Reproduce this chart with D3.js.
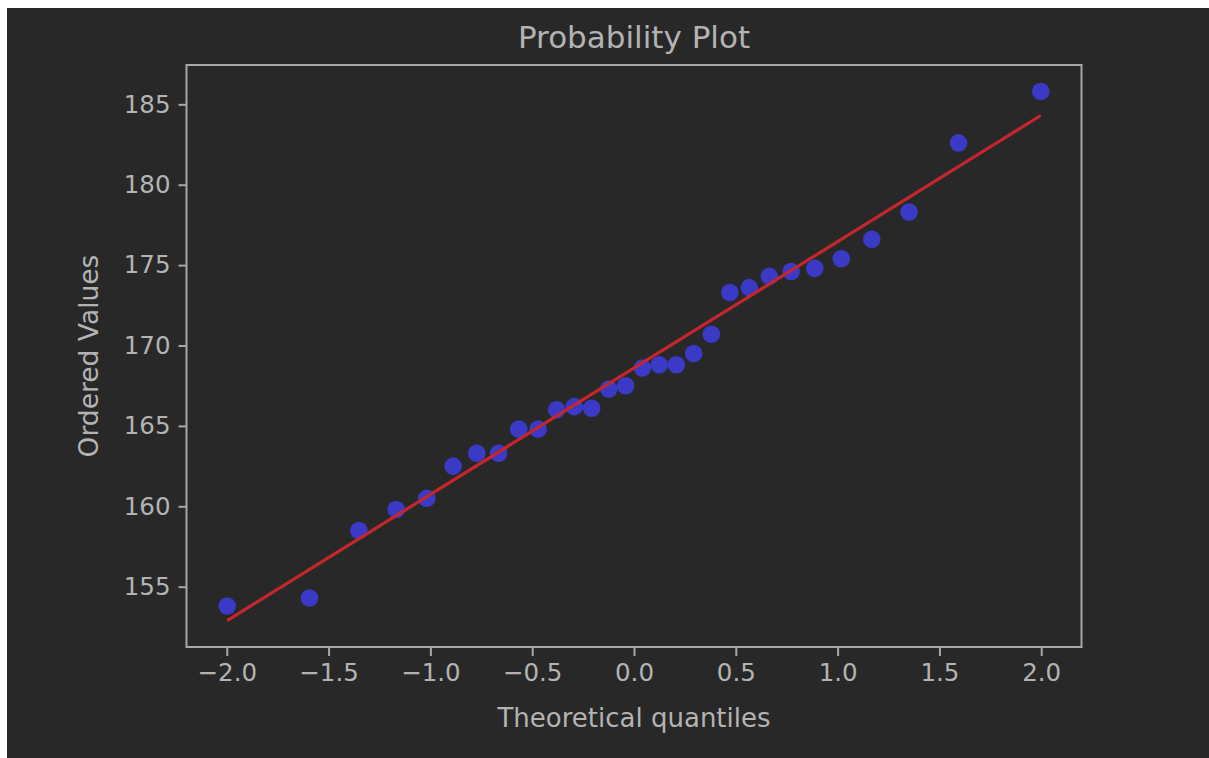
<!DOCTYPE html>
<html>
<head>
<meta charset="utf-8">
<script src="https://cdn.jsdelivr.net/npm/d3@7"></script>
<style>
    body { margin: 0; background: #ffffff; }
    svg { display: block; }
    text { font-family: "DejaVu Sans", sans-serif; fill: #b3b3b3; }
</style>
</head>
<body>
<div id="chart"></div>
<script>
// 理论分位数（横轴）
const quantiles = [-1.998, -1.594, -1.351, -1.168, -1.018, -0.888, -0.772, -0.665, -0.566, -0.471,
    -0.380, -0.293, -0.208, -0.124, -0.041, 0.041, 0.124, 0.208, 0.293, 0.380,
    0.471, 0.566, 0.665, 0.772, 0.888, 1.018, 1.168, 1.351, 1.594, 1.998];
// 排序后的数值（纵轴）
const orderedValues = [153.8, 154.3, 158.5, 159.8, 160.5, 162.5, 163.3, 163.3, 164.8, 164.8,
    166.0, 166.2, 166.1, 167.3, 167.5, 168.6, 168.8, 168.8, 169.5, 170.7,
    173.3, 173.6, 174.3, 174.6, 174.8, 175.4, 176.6, 178.3, 182.6, 185.8];
// 拟合直线（斜率、截距）
const fitSlope = 7.86;
const fitIntercept = 168.6;
// 刻度
const xTicks = [-2.0, -1.5, -1.0, -0.5, 0.0, 0.5, 1.0, 1.5, 2.0];
const yTicks = [155, 160, 165, 170, 175, 180, 185];

const W = 1209, H = 758;
// 绘图区边界
const plot = {left: 186.5, right: 1081.5, top: 65, bottom: 647};

const svg = d3.select("#chart").append("svg")
    .attr("width", W)
    .attr("height", H);

// 深色背景（左上留白边）
svg.append("rect")
    .attr("x", 7).attr("y", 8)
    .attr("width", W - 7).attr("height", H - 8)
    .attr("fill", "#282828");

// 比例尺，两端各留 5% 边距
const xMin = d3.min(quantiles), xMax = d3.max(quantiles);
const xPad = (xMax - xMin) * 0.05;
const x = d3.scaleLinear()
    .domain([xMin - xPad, xMax + xPad])
    .range([plot.left, plot.right]);

const fitLine = [xMin, xMax].map(q => [q, fitSlope * q + fitIntercept]);
const yAll = orderedValues.concat(fitLine.map(d => d[1]));
const yMin = d3.min(yAll), yMax = d3.max(yAll);
const yPad = (yMax - yMin) * 0.05;
const y = d3.scaleLinear()
    .domain([yMin - yPad, yMax + yPad])
    .range([plot.bottom, plot.top]);

// 数据点
svg.selectAll(".dot")
    .data(quantiles)
    .enter().append("circle")
    .attr("class", "dot")
    .attr("cx", d => x(d))
    .attr("cy", (d, i) => y(orderedValues[i]))
    .attr("r", 8.8)
    .attr("fill", "#3a3ac6");

// 拟合线
svg.append("path")
    .datum(fitLine)
    .attr("fill", "none")
    .attr("stroke", "#c4262e")
    .attr("stroke-width", 3.2)
    .attr("d", d3.line().x(d => x(d[0])).y(d => y(d[1])));

// X轴
const fmtX = d => d3.format(".1f")(d).replace("-", "\u2212");
const gx = svg.append("g")
    .attr("transform", `translate(0, ${plot.bottom})`)
    .call(d3.axisBottom(x).tickValues(xTicks).tickFormat(fmtX).tickSize(9).tickPadding(8));
gx.select(".domain").remove();
gx.selectAll("line").attr("stroke", "#a8a8a8").attr("stroke-width", 2);
gx.selectAll("text").attr("fill", "#b3b3b3").style("font-size", "24.5px")
    .style("font-family", "DejaVu Sans, sans-serif");

// Y轴
const gy = svg.append("g")
    .attr("transform", `translate(${plot.left}, 0)`)
    .call(d3.axisLeft(y).tickValues(yTicks).tickSize(8).tickPadding(8));
gy.select(".domain").remove();
gy.selectAll("line").attr("stroke", "#a8a8a8").attr("stroke-width", 2);
gy.selectAll("text").attr("fill", "#b3b3b3").style("font-size", "24.5px")
    .style("font-family", "DejaVu Sans, sans-serif");

// 边框
svg.append("rect")
    .attr("x", plot.left).attr("y", plot.top)
    .attr("width", plot.right - plot.left).attr("height", plot.bottom - plot.top)
    .attr("fill", "none")
    .attr("stroke", "#a8a8a8")
    .attr("stroke-width", 2);

// 标题和轴标题
svg.append("text")
    .attr("x", (plot.left + plot.right) / 2)
    .attr("y", 48)
    .attr("text-anchor", "middle")
    .style("font-size", "31px")
    .text("Probability Plot");

svg.append("text")
    .attr("x", (plot.left + plot.right) / 2)
    .attr("y", 727)
    .attr("text-anchor", "middle")
    .style("font-size", "26px")
    .text("Theoretical quantiles");

svg.append("text")
    .attr("transform", `translate(98, ${(plot.top + plot.bottom) / 2}) rotate(-90)`)
    .attr("text-anchor", "middle")
    .style("font-size", "26.5px")
    .text("Ordered Values");
</script>
</body>
</html>
